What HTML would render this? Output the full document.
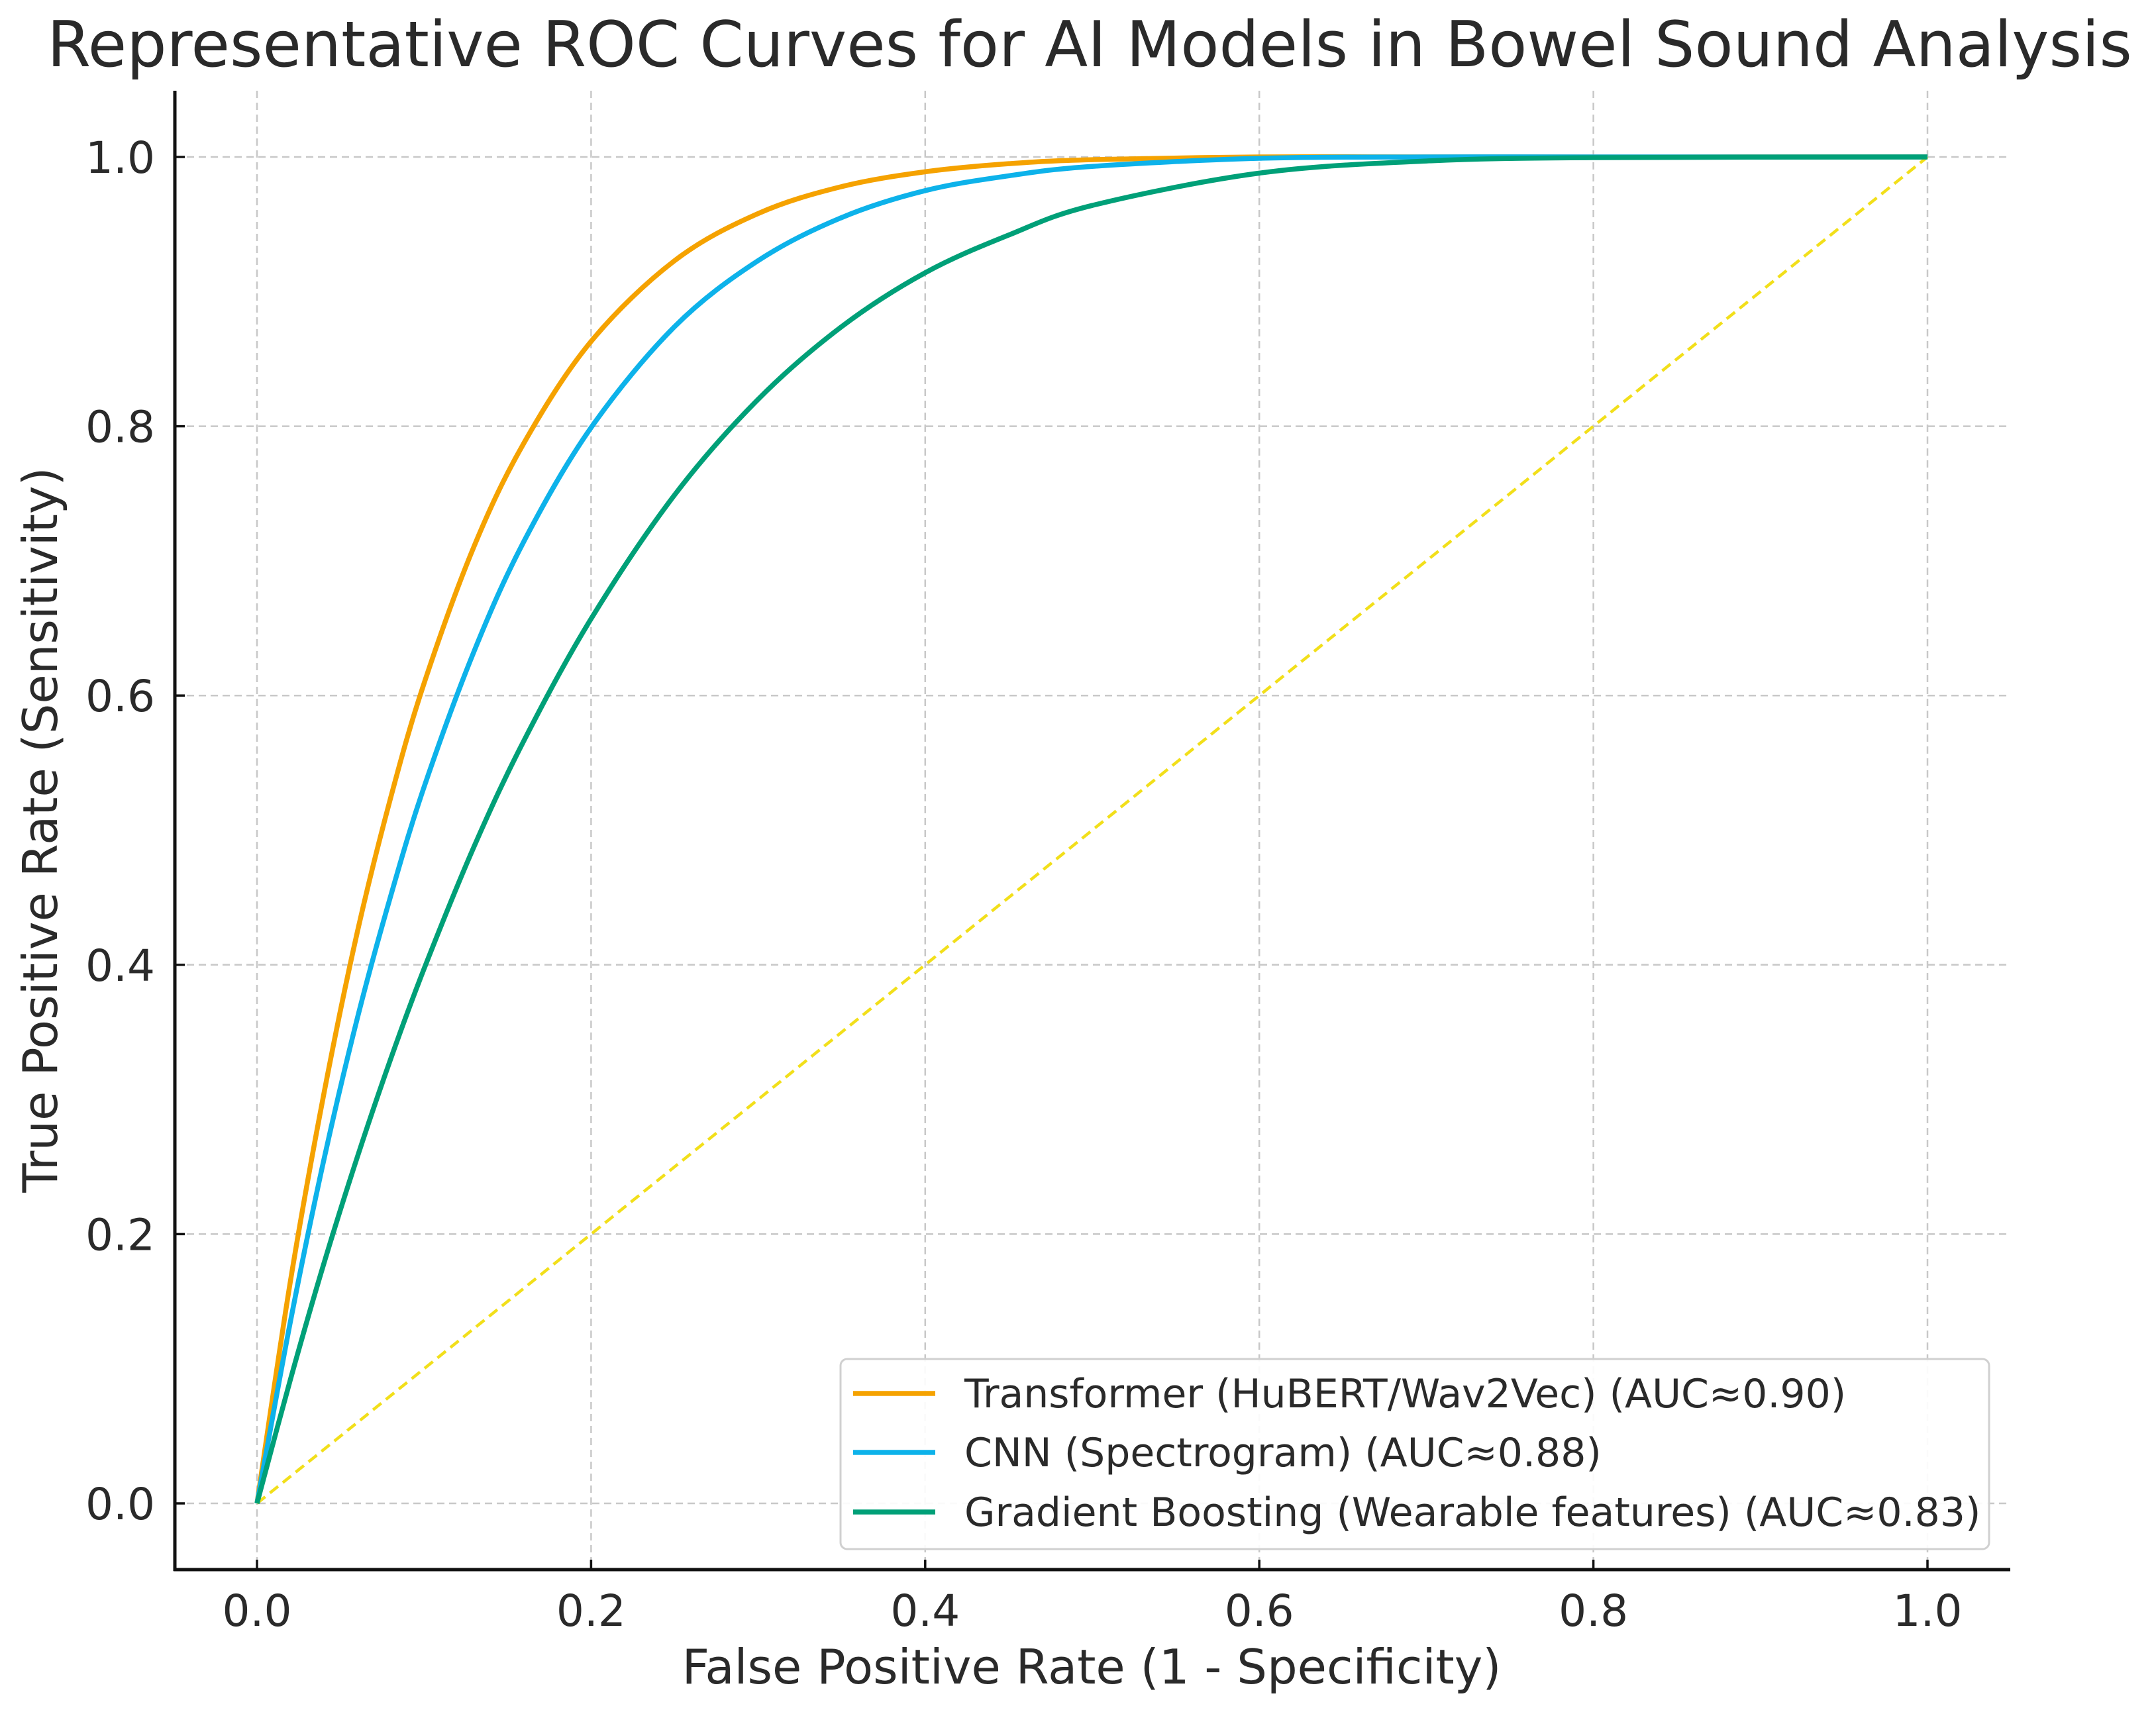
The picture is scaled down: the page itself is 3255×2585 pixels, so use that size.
<!DOCTYPE html>
<html><head><meta charset="utf-8"><style>
html,body{margin:0;padding:0;background:#fff;}
svg{display:block;}
text{font-family:"DejaVu Sans","Liberation Sans",sans-serif;fill:#2a2a2a;}
</style></head><body>
<svg id="chart" width="3255" height="2585" viewBox="0 0 3255 2585" xmlns="http://www.w3.org/2000/svg">
<rect width="3255" height="2585" fill="#fff"/>
<text x="1645" y="100" font-size="95" text-anchor="middle">Representative ROC Curves for AI Models in Bowel Sound Analysis</text>
<g id="grid"></g>
<g id="series"></g>
<g id="axes"></g>
<g id="legend"></g>
<text x="1648" y="2542" font-size="72" text-anchor="middle">False Positive Rate (1 - Specificity)</text>
<text transform="translate(86,1253) rotate(-90)" font-size="72" text-anchor="middle">True Positive Rate (Sensitivity)</text>
</svg>
<script>
const xTicks = [0.0, 0.2, 0.4, 0.6, 0.8, 1.0];
const yTicks = [0.0, 0.2, 0.4, 0.6, 0.8, 1.0];
const fprPoints = [0, 0.02, 0.04, 0.06, 0.08, 0.1, 0.13, 0.16, 0.2, 0.25, 0.3, 0.35, 0.4, 0.45, 0.5, 0.6, 0.7, 0.8, 1.0];
const transformerTpr = [0, 0.165, 0.304, 0.424, 0.524, 0.609, 0.711, 0.788, 0.863, 0.923, 0.958, 0.978, 0.989, 0.995, 0.998, 1.0, 1.0, 1.0, 1.0];
const cnnTpr = [0, 0.135, 0.255, 0.360, 0.451, 0.532, 0.633, 0.715, 0.799, 0.874, 0.923, 0.955, 0.975, 0.986, 0.993, 0.999, 1.0, 1.0, 1.0];
const gbTpr = [0, 0.092, 0.178, 0.257, 0.330, 0.397, 0.488, 0.567, 0.657, 0.749, 0.820, 0.874, 0.914, 0.942, 0.964, 0.988, 0.997, 0.9995, 1.0];
const seriesNames = ["Transformer (HuBERT/Wav2Vec) (AUC≈0.90)", "CNN (Spectrogram) (AUC≈0.88)", "Gradient Boosting (Wearable features) (AUC≈0.83)"];
const seriesColors = ["#F5A200", "#0DB2EA", "#00A078"];

const NS = "http://www.w3.org/2000/svg";
const X0 = 388, X1 = 2910, Y0 = 2270, Y1 = 237;
const L = 264, R = 3035, T = 137, B = 2370;
function sx(v){ return X0 + (X1 - X0) * v; }
function sy(v){ return Y0 - (Y0 - Y1) * v; }
function mk(tag, attrs, parent){ const e = document.createElementNS(NS, tag); for (const k in attrs) e.setAttribute(k, attrs[k]); parent.appendChild(e); return e; }

const grid = document.getElementById('grid');
xTicks.forEach(t => {
  const g = mk('line', {x1: sx(t), x2: sx(t), y1: T, y2: B, stroke: '#c8c8c8', 'stroke-width': 2.5, 'stroke-dasharray': '11,7'}, grid);
  
  
});
yTicks.forEach(t => {
  const g = mk('line', {x1: L, x2: R, y1: sy(t), y2: sy(t), stroke: '#c8c8c8', 'stroke-width': 2.5, 'stroke-dasharray': '11,7'}, grid);
  
  
});

const ser = document.getElementById('series');
const diag = mk('line', {x1: sx(0), y1: sy(0), x2: sx(1), y2: sy(1), stroke: '#F2DF1A', 'stroke-width': 4.5, 'stroke-dasharray': '16,9'}, ser);



function smoothPath(xs, ys){
  const p = xs.map((x, i) => [sx(x), sy(ys[i])]);
  let d = `M${p[0][0]},${p[0][1]}`;
  for (let i = 0; i < p.length - 1; i++){
    const p0 = p[i-1] || p[i], p1 = p[i], p2 = p[i+1], p3 = p[i+2] || p2;
    const c1 = [p1[0] + (p2[0]-p0[0])/6, p1[1] + (p2[1]-p0[1])/6];
    const c2 = [p2[0] - (p3[0]-p1[0])/6, p2[1] - (p3[1]-p1[1])/6];
    d += ` C${c1[0]},${c1[1]} ${c2[0]},${c2[1]} ${p2[0]},${p2[1]}`;
  }
  return d;
}
const allTpr = [transformerTpr, cnnTpr, gbTpr];
const seriesIds = ['transformer-curve', 'cnn-curve', 'gradient-boosting-curve'];
allTpr.forEach((ys, i) => {
  const path = mk('path', {d: smoothPath(fprPoints, ys), fill: 'none', stroke: seriesColors[i], 'stroke-width': 7.5, 'stroke-linejoin': 'round'}, ser);
  
  
});

const ax = document.getElementById('axes');
const ls = mk('line', {x1: L, x2: L, y1: T, y2: B + 2, stroke: '#111', 'stroke-width': 5}, ax);


const bs = mk('line', {x1: L - 2, x2: R, y1: B, y2: B, stroke: '#111', 'stroke-width': 5}, ax);


xTicks.forEach(t => {
  const tk = mk('line', {x1: sx(t), x2: sx(t), y1: B, y2: B - 15, stroke: '#111', 'stroke-width': 3.5}, ax);
  
  
  const lb = mk('text', {x: sx(t), y: B + 85, 'font-size': 66, 'text-anchor': 'middle'}, ax);
  lb.textContent = t.toFixed(1);
  
  
});
yTicks.forEach(t => {
  const tk = mk('line', {x1: L, x2: L + 15, y1: sy(t), y2: sy(t), stroke: '#111', 'stroke-width': 3.5}, ax);
  
  
  const lb = mk('text', {x: 234, y: sy(t) + 24, 'font-size': 66, 'text-anchor': 'end'}, ax);
  lb.textContent = t.toFixed(1);
  
  
});

const lg = document.getElementById('legend');
const box = mk('rect', {x: 1269, y: 2052, width: 1734, height: 287, rx: 10, fill: '#fff', 'fill-opacity': 0.9, stroke: '#d0d0d0', 'stroke-width': 3}, lg);


const rowY = [2104, 2193, 2283];
const entryIds = ['legend-entry-transformer', 'legend-entry-cnn', 'legend-entry-gradient-boosting'];
seriesNames.forEach((n, i) => {
  const g = mk('g', {}, lg);
  
  
  mk('line', {x1: 1288, x2: 1412, y1: rowY[i], y2: rowY[i], stroke: seriesColors[i], 'stroke-width': 7.5}, g);
  const t = mk('text', {x: 1456, y: rowY[i] + 21, 'font-size': 60}, g);
  t.textContent = n;
});
</script>
</body></html>
